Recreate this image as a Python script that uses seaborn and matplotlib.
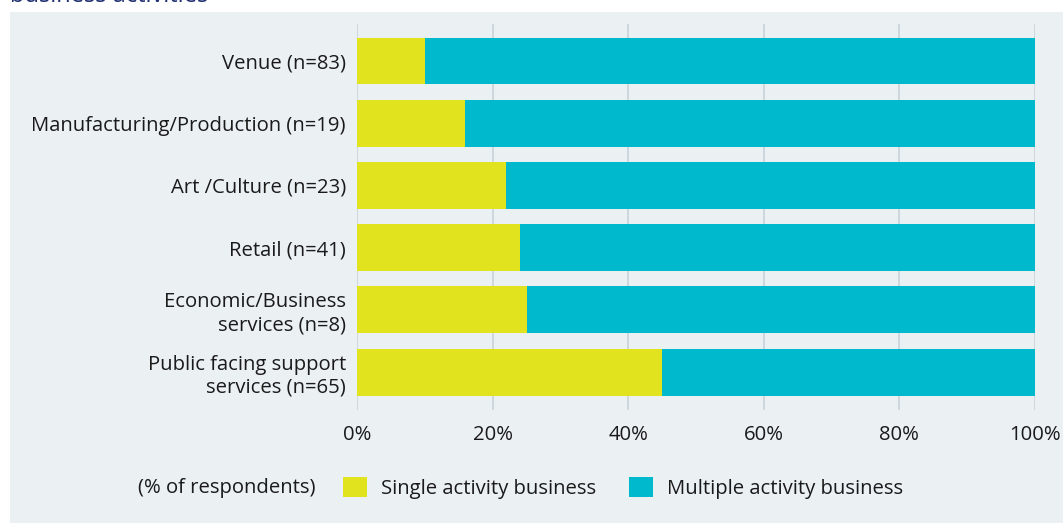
import matplotlib
matplotlib.use("Agg")
import matplotlib.pyplot as plt
from matplotlib.patches import Rectangle, Patch
import pandas as pd
import seaborn as sns

# Business types and share of respondents running a single activity (%)
categories = [
    "Venue (n=83)",
    "Manufacturing/Production (n=19)",
    "Art /Culture (n=23)",
    "Retail (n=41)",
    "Economic/Business\nservices (n=8)",
    "Public facing support\nservices (n=65)",
]
single_activity = [10, 16, 22, 24, 25, 45]
multiple_activity = [100 - v for v in single_activity]
x_ticks = [0, 20, 40, 60, 80, 100]
x_tick_labels = ["0%", "20%", "40%", "60%", "80%", "100%"]

YELLOW = "#e1e31f"
CYAN = "#00b9cd"
PANEL = "#ebf0f3"
GRID = "#c9d2da"
TEXT = "#1a1a1a"
FS = 14.6

df = pd.DataFrame({
    "category": categories,
    "single": single_activity,
    "multiple": multiple_activity,
})
df["total"] = df["single"] + df["multiple"]

sns.set_theme(style="white")
plt.rcParams["font.family"] = ["Open Sans", "DejaVu Sans"]

fig = plt.figure(figsize=(10.63, 5.23), dpi=100)
fig.patch.set_facecolor("white")

# light panel behind the chart
panel = Rectangle((10 / 1063, 0), 1 - 10 / 1063, 1 - 12 / 523,
                  transform=fig.transFigure, facecolor=PANEL,
                  edgecolor="none", zorder=-5)
fig.patches.append(panel)
fig.text(10 / 1063, 1 - 2 / 523, "business activities", color="#1f2f72",
         fontsize=17, ha="left", va="baseline")

ax = fig.add_axes([357 / 1063, 1 - 410 / 523, (1035 - 357) / 1063, (410 - 24) / 523])
ax.set_zorder(2)
ax.set_facecolor("none")

sns.barplot(data=df, x="total", y="category", color=CYAN, width=0.755,
            orient="h", ax=ax, saturation=1, linewidth=0, edgecolor="none",
            zorder=3)
sns.barplot(data=df, x="single", y="category", color=YELLOW, width=0.755,
            orient="h", ax=ax, saturation=1, linewidth=0, edgecolor="none",
            zorder=4)

ax.set_xlim(0, 100)
ax.set_ylim(5.61, -0.595)
ax.set_xticks(x_ticks)
ax.set_xticklabels(x_tick_labels)
ax.set_xlabel("")
ax.set_ylabel("")
for x in x_ticks:
    ax.axvline(x, color=GRID, lw=1.2, zorder=1)
for s in ax.spines.values():
    s.set_visible(False)
ax.tick_params(axis="x", length=0, pad=11, labelsize=FS, labelcolor=TEXT)
ax.tick_params(axis="y", length=0, pad=8, labelsize=FS, labelcolor=TEXT)
for lbl in ax.get_yticklabels():
    lbl.set_multialignment("right")

fig.text(138 / 1063, 1 - 488 / 523, "(% of respondents)", fontsize=FS,
         color=TEXT, ha="left", va="center")
handles = [Patch(facecolor=YELLOW, edgecolor="none", label="Single activity business"),
           Patch(facecolor=CYAN, edgecolor="none", label="Multiple activity business")]
fig.legend(handles=handles, loc="center left",
           bbox_to_anchor=(325 / 1063, 1 - 488 / 523), ncol=2, frameon=False,
           fontsize=FS, handlelength=1.18, handleheight=1.13, handletextpad=0.7,
           columnspacing=1.6, labelcolor=TEXT)

fig.savefig("out.png", dpi=100, facecolor="white")
